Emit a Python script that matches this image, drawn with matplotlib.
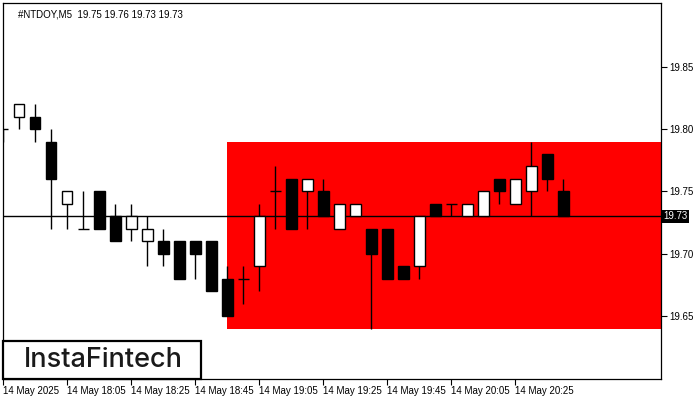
import matplotlib
matplotlib.use("Agg")
import matplotlib.pyplot as plt
import matplotlib.transforms as mtransforms
from matplotlib.patches import Rectangle

# 5-minute candles, first bar 14 May 17:45
times = ["17:45", "17:50", "17:55", "18:00", "18:05", "18:10", "18:15", "18:20", "18:25",
         "18:30", "18:35", "18:40", "18:45", "18:50", "18:55", "19:00", "19:05", "19:10",
         "19:15", "19:20", "19:25", "19:30", "19:35", "19:40", "19:45", "19:50", "19:55",
         "20:00", "20:05", "20:10", "20:15", "20:20", "20:25", "20:30", "20:35", "20:40"]
opens = [19.80, 19.81, 19.81, 19.79, 19.74, 19.72, 19.75, 19.73, 19.72, 19.71, 19.71, 19.71,
         19.71, 19.71, 19.68, 19.68, 19.69, 19.75, 19.76, 19.75, 19.75, 19.72, 19.73, 19.72,
         19.72, 19.69, 19.69, 19.74, 19.74, 19.73, 19.73, 19.76, 19.74, 19.75, 19.78, 19.75]
highs = [19.80, 19.82, 19.82, 19.80, 19.75, 19.75, 19.75, 19.74, 19.74, 19.73, 19.72, 19.71,
         19.71, 19.71, 19.69, 19.69, 19.74, 19.77, 19.76, 19.76, 19.76, 19.74, 19.74, 19.72,
         19.72, 19.69, 19.73, 19.74, 19.74, 19.74, 19.75, 19.76, 19.76, 19.79, 19.78, 19.76]
lows = [19.79, 19.80, 19.79, 19.72, 19.72, 19.72, 19.72, 19.71, 19.71, 19.69, 19.69, 19.68,
        19.68, 19.67, 19.65, 19.66, 19.67, 19.72, 19.72, 19.72, 19.73, 19.72, 19.73, 19.64,
        19.68, 19.68, 19.68, 19.73, 19.73, 19.73, 19.73, 19.74, 19.74, 19.73, 19.75, 19.73]
closes = [19.80, 19.82, 19.80, 19.76, 19.75, 19.72, 19.72, 19.71, 19.73, 19.72, 19.70, 19.68,
          19.70, 19.67, 19.65, 19.68, 19.73, 19.75, 19.72, 19.76, 19.73, 19.74, 19.74, 19.70,
          19.68, 19.68, 19.73, 19.73, 19.74, 19.74, 19.75, 19.75, 19.76, 19.77, 19.76, 19.73]

zone_start = 14          # bar where the rectangle pattern begins
zone_low, zone_high = 19.64, 19.79
last_price = 19.73
price_ticks = [19.65, 19.70, 19.75, 19.80, 19.85]
time_tick_idx = [0, 4, 8, 12, 16, 20, 24, 28, 32]
title = "#NTDOY,M5  19.75 19.76 19.73 19.73"

plt.rcParams['font.family'] = ['Liberation Sans', 'DejaVu Sans']

fig = plt.figure(figsize=(7, 4), dpi=100)
ax = fig.add_axes([0.0039, 0.0525, 0.94, 0.9405])
ax.set_xlim(-0.02, 41.1)
ax.set_ylim(19.5996, 19.9012)

# red rectangle zone
ax.add_patch(Rectangle((zone_start, zone_low), 100, zone_high - zone_low,
                       facecolor="#ff0000", edgecolor="none", zorder=1))

# current price line
ax.axhline(last_price, color="black", lw=1, zorder=2)

body_w = 0.68
for i in range(len(times)):
    o, h, l, c = opens[i], highs[i], lows[i], closes[i]
    ax.vlines(i, l, h, color="black", lw=1, zorder=3)
    if o == c:
        ax.hlines(o, i - body_w / 2, i + body_w / 2, color="black", lw=1, zorder=4)
    else:
        fill = "white" if c > o else "black"
        ax.bar(i, c - o, bottom=o, width=body_w, color=fill, edgecolor="black",
               lw=1, zorder=4)

# axes styling
for s in ax.spines.values():
    s.set_linewidth(0.9)
    s.set_color("black")
ax.yaxis.tick_right()
ax.set_yticks(price_ticks)
ax.set_yticklabels([f"{p:.2f}" for p in price_ticks])
ax.tick_params(axis="y", length=4, width=0.8, pad=2, labelsize=7)
ax.set_xticks(time_tick_idx)
xlabels = ["14 May 2025"] + ["14 May " + times[k] for k in time_tick_idx[1:]]
ax.set_xticklabels(xlabels, ha="left")
ax.tick_params(axis="x", length=4, width=0.8, pad=1, labelsize=7)

# price label on the right axis
trans = mtransforms.blended_transform_factory(ax.transAxes, ax.transData)
ax.text(1.004, last_price, f"{last_price:.2f}", transform=trans, color="white",
        fontsize=7, va="center", ha="left",
        bbox=dict(facecolor="black", edgecolor="none", pad=1.2))

# header
ax.text(0.023, 0.983, title, transform=ax.transAxes, fontsize=7, va="top", ha="left")

# logo box
ax.add_patch(Rectangle((0.0, 0.0), 0.302, 0.1, transform=ax.transAxes, facecolor="white",
                       edgecolor="black", lw=1.6, zorder=6, clip_on=False))
ax.text(0.153, 0.05, "InstaFintech", transform=ax.transAxes, fontsize=19.5,
        family=["Inter", "DejaVu Sans"], fontweight="medium", color="#1a1a1a",
        ha="center", va="center", zorder=7)

fig.savefig("out.png", dpi=100)
